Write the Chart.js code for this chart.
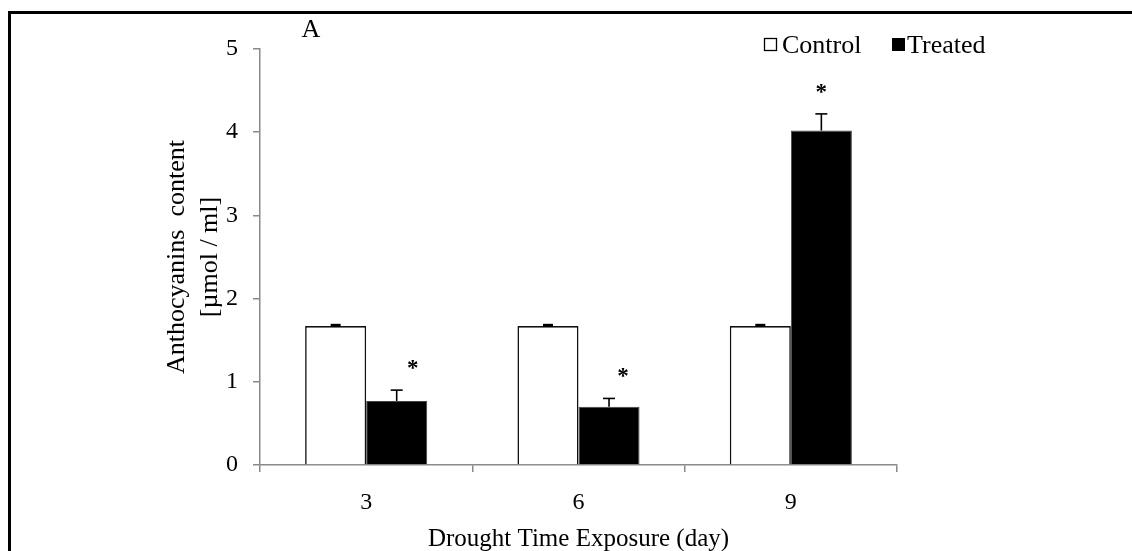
<!DOCTYPE html>
<html>
<head>
<meta charset="utf-8">
<script src="https://cdn.jsdelivr.net/npm/chart.js@4.4.1/dist/chart.umd.min.js"></script>
<style>
  html, body { margin: 0; padding: 0; background: #fff; }
  #wrap { width: 1132px; height: 551px; }
</style>
</head>
<body>
<div id="wrap"><canvas id="c" width="1132" height="551"></canvas></div>
<script>
// ---- data ----
const categories = ['3', '6', '9'];
const controlValues = [1.67, 1.67, 1.67];
const treatedValues = [0.77, 0.70, 4.02];
const controlErrors = [0.015, 0.015, 0.015];
const treatedErrors = [0.13, 0.10, 0.20];
const treatedSignificant = [true, true, true];
const yTicks = [0, 1, 2, 3, 4, 5];
const seriesLabels = ['Control', 'Treated'];
const yTitle = ['Anthocyanins  content', '[\u00b5mol / ml]'];
const xTitle = 'Drought Time Exposure (day)';
const panelLabel = 'A';

// ---- style ----
const SERIF = '"Liberation Serif", "Times New Roman", serif';
const AXIS_GREY = '#8a8a8a';
const starDx = [16, 14, 0];
const starGap = 26;

const errorBars = {
  id: 'errorBars',
  afterDatasetsDraw(chart) {
    const ctx = chart.ctx;
    const y = chart.scales.y;
    const errs = [controlErrors, treatedErrors];
    ctx.save();
    ctx.strokeStyle = '#000';
    ctx.fillStyle = '#000';
    errs.forEach((arr, di) => {
      const meta = chart.getDatasetMeta(di);
      meta.data.forEach((bar, i) => {
        const v = chart.data.datasets[di].data[i];
        const top = y.getPixelForValue(v + arr[i]);
        const base = y.getPixelForValue(v);
        const x = bar.x;
        ctx.lineWidth = 1.6;
        ctx.beginPath();
        ctx.moveTo(x, base);
        ctx.lineTo(x, top);
        ctx.stroke();
        if (di === 0) {
          ctx.fillRect(x - 5, top - 1, 10, 3);
        } else {
          ctx.beginPath();
          ctx.moveTo(x - 6, top);
          ctx.lineTo(x + 6, top);
          ctx.stroke();
          if (treatedSignificant[i]) {
            ctx.font = 'bold 23px ' + SERIF;
            ctx.textAlign = 'center';
            ctx.textBaseline = 'middle';
            ctx.fillText('*', x + starDx[i], top - starGap + 5);
          }
        }
      });
    });
    ctx.restore();
  }
};

const decorations = {
  id: 'decorations',
  afterDraw(chart) {
    const ctx = chart.ctx;
    ctx.save();
    // frame
    ctx.fillStyle = '#000';
    ctx.fillRect(8, 11, 1132 - 8, 3);
    ctx.fillRect(8, 11, 3, 551 - 11);
    // panel label
    ctx.font = '26px ' + SERIF;
    ctx.textAlign = 'center';
    ctx.textBaseline = 'alphabetic';
    ctx.fillText(panelLabel, 311, 37);
    // legend
    ctx.font = '26px ' + SERIF;
    ctx.textAlign = 'left';
    ctx.lineWidth = 1.3;
    ctx.strokeStyle = '#000';
    ctx.strokeRect(764.5, 38.5, 12, 12);
    ctx.fillText(seriesLabels[0], 782, 53);
    ctx.fillRect(892, 38, 13, 13);
    ctx.fillText(seriesLabels[1], 907, 53);
    ctx.restore();
  }
};

new Chart(document.getElementById('c'), {
  type: 'bar',
  data: {
    labels: categories,
    datasets: [
      {
        label: seriesLabels[0],
        data: controlValues,
        backgroundColor: '#ffffff',
        borderColor: '#111',
        borderWidth: 1.6,
        categoryPercentage: 0.575,
        barPercentage: 1.0
      },
      {
        label: seriesLabels[1],
        data: treatedValues,
        backgroundColor: '#000000',
        borderColor: '#444',
        borderWidth: 1,
        categoryPercentage: 0.575,
        barPercentage: 1.0
      }
    ]
  },
  options: {
    responsive: false,
    animation: false,
    devicePixelRatio: 1,
    layout: { padding: { top: 49, right: 235, left: 0, bottom: 0 } },
    plugins: {
      legend: { display: false },
      tooltip: { enabled: false }
    },
    scales: {
      x: {
        afterFit(s) { s.height = 86; },
        grid: { offset: true, drawOnChartArea: false, drawTicks: true, tickLength: 7, color: AXIS_GREY, lineWidth: 1.5 },
        border: { color: AXIS_GREY, width: 1.5 },
        ticks: { color: '#000', font: { family: SERIF, size: 24 }, padding: 16 },
        title: {
          display: true, text: xTitle, color: '#000',
          font: { family: SERIF, size: 25, lineHeight: 1 },
          padding: { top: 0, bottom: -1 }
        }
      },
      y: {
        min: 0, max: 5,
        afterFit(s) { s.width = 260; },
        afterBuildTicks(s) { s.ticks = yTicks.map(v => ({ value: v })); },
        grid: { drawOnChartArea: false, drawTicks: true, tickLength: 7, color: AXIS_GREY, lineWidth: 1.5 },
        border: { color: AXIS_GREY, width: 1.5 },
        ticks: { color: '#000', font: { family: SERIF, size: 24 }, padding: 15 },
        title: {
          display: true, text: yTitle, color: '#000',
          font: { family: SERIF, size: 26, lineHeight: 1.27 },
          padding: { top: 161, bottom: 0 }
        }
      }
    }
  },
  plugins: [errorBars, decorations]
});
</script>
</body>
</html>
